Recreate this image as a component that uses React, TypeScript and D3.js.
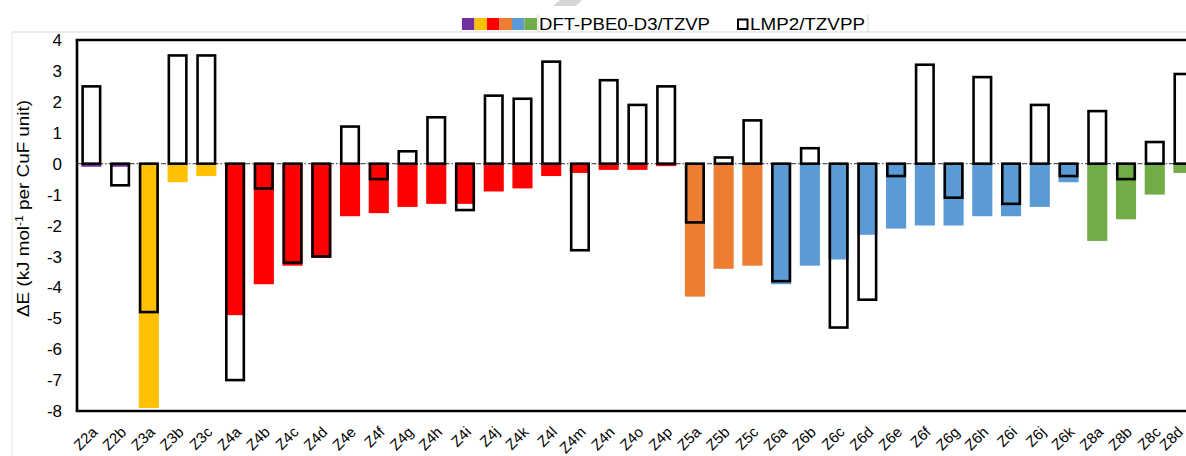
import React from "react";
import * as d3 from "d3";

// Structures along the x axis
const categories = [
  "Z2a", "Z2b", "Z3a", "Z3b", "Z3c",
  "Z4a", "Z4b", "Z4c", "Z4d", "Z4e", "Z4f", "Z4g", "Z4h", "Z4i", "Z4j", "Z4k", "Z4l", "Z4m", "Z4n", "Z4o", "Z4p",
  "Z5a", "Z5b", "Z5c",
  "Z6a", "Z6b", "Z6c", "Z6d", "Z6e", "Z6f", "Z6g", "Z6h", "Z6i", "Z6j", "Z6k",
  "Z8a", "Z8b", "Z8c", "Z8d",
];

// DFT-PBE0-D3/TZVP relative energies (filled bars)
const dftValues = [
  -0.1, -0.1, -7.9, -0.6, -0.4,
  -4.9, -3.9, -3.3, -3.05, -1.7, -1.6, -1.4, -1.3, -1.3, -0.9, -0.8, -0.4, -0.3, -0.2, -0.2, -0.08,
  -4.3, -3.4, -3.3,
  -3.9, -3.3, -3.1, -2.3, -2.1, -2.0, -2.0, -1.7, -1.7, -1.4, -0.6,
  -2.5, -1.8, -1.0, -0.3,
];

// LMP2/TZVPP relative energies (outlined bars)
const lmp2Values = [
  2.5, -0.7, -4.8, 3.5, 3.5,
  -7.0, -0.8, -3.2, -3.0, 1.2, -0.5, 0.4, 1.5, -1.5, 2.2, 2.1, 3.3, -2.8, 2.7, 1.9, 2.5,
  -1.9, 0.2, 1.4,
  -3.8, 0.5, -5.3, -4.4, -0.4, 3.2, -1.1, 2.8, -1.3, 1.9, -0.4,
  1.7, -0.5, 0.7, 2.9,
];

// Family colours (by the Zn prefix)
const familyKeys = ["Z2", "Z3", "Z4", "Z5", "Z6", "Z8"];
const familyColors = ["#7030A0", "#FFC000", "#FF0000", "#ED7D31", "#5B9BD5", "#70AD47"];

const yTicks = [4, 3, 2, 1, 0, -1, -2, -3, -4, -5, -6, -7, -8];

const legendLabels = ["DFT-PBE0-D3/TZVP", "LMP2/TZVPP"];

const W = 1186;
const H = 456;
const FONT = "'Liberation Sans', Arial, sans-serif";

export default function App() {
  const plotLeft = 77;
  const plotTop = 40;
  const plotBottom = 411;
  const step = 28.74;
  const plotRight = plotLeft + step * categories.length;

  const x = d3
    .scaleBand<string>()
    .domain(categories)
    .range([plotLeft, plotRight])
    .paddingInner(0.3)
    .paddingOuter(0.15);

  const y = d3.scaleLinear().domain([-8, 4]).range([plotBottom, plotTop]);

  const color = d3.scaleOrdinal<string, string>().domain(familyKeys).range(familyColors);

  const bw = x.bandwidth();
  const y0 = y(0);
  const sw = 2.6;

  return (
    <svg
      width={W}
      height={H}
      style={{ position: "absolute", left: 0, top: 0, background: "#fff" }}
      fontFamily={FONT}
    >
      <defs>
        <clipPath id="clipPlot">
          <rect x={0} y={0} width={W} height={H} />
        </clipPath>
      </defs>

      {/* faint watermark fragment */}
      <polygon points="560,0 582,0 576,6 553,6" fill="#d6d6d6" />

      {/* chart-area borders */}
      <line x1={12} x2={W} y1={32} y2={32} stroke="#d9d9d9" strokeWidth={1} />
      <line x1={12} x2={12} y1={32} y2={H} stroke="#e3e3e3" strokeWidth={1} />
      <line x1={538} x2={538} y1={14} y2={32} stroke="#d9d9d9" strokeWidth={1} />
      <line x1={868} x2={868} y1={14} y2={32} stroke="#d9d9d9" strokeWidth={1} />

      {/* legend */}
      <g>
        {familyColors.map((c, i) => (
          <rect key={c} x={462 + i * 12.5} y={18} width={12.5} height={12} fill={c} />
        ))}
        <text x={539} y={29.5} fontSize={16.5} fill="#000" textLength={171} lengthAdjust="spacingAndGlyphs">
          {legendLabels[0]}
        </text>
        <rect x={738} y={19.5} width={9.5} height={9.5} fill="#fff" stroke="#000" strokeWidth={2} />
        <text x={750} y={29.5} fontSize={16.5} fill="#000" textLength={115} lengthAdjust="spacingAndGlyphs">
          {legendLabels[1]}
        </text>
      </g>

      {/* zero line */}
      <line
        x1={plotLeft}
        x2={W}
        y1={y0}
        y2={y0}
        stroke="#595959"
        strokeWidth={1.3}
        strokeDasharray="5,2,1.5,2"
      />

      <g clipPath="url(#clipPlot)">
        {/* DFT filled bars */}
        {categories.map((c, i) => {
          const v = dftValues[i];
          const yy = Math.min(y(v), y0);
          const h = Math.abs(y(v) - y0);
          return (
            <rect key={"d" + c} x={x(c)} y={yy} width={bw} height={h} fill={color(c.slice(0, 2))} />
          );
        })}
        {/* LMP2 outlined bars */}
        {categories.map((c, i) => {
          const v = lmp2Values[i];
          const yy = Math.min(y(v), y0);
          const h = Math.abs(y(v) - y0);
          return (
            <rect
              key={"l" + c}
              x={(x(c) as number) + sw / 2}
              y={yy}
              width={bw - sw}
              height={h}
              fill="none"
              stroke="#000"
              strokeWidth={sw}
            />
          );
        })}
      </g>

      {/* plot frame */}
      <line x1={plotLeft - 1.3} x2={W} y1={plotTop} y2={plotTop} stroke="#000" strokeWidth={2.6} />
      <line x1={plotLeft - 1.3} x2={W} y1={plotBottom} y2={plotBottom} stroke="#000" strokeWidth={2.6} />
      <line x1={plotLeft} x2={plotLeft} y1={plotTop} y2={plotBottom} stroke="#000" strokeWidth={2.6} />

      {/* y tick labels */}
      {yTicks.map((t) => (
        <text key={t} x={62} y={y(t)} dy="0.36em" textAnchor="end" fontSize={17} fill="#000">
          {t}
        </text>
      ))}

      {/* y axis title */}
      <text
        transform={`translate(29,${(100 + 317) / 2}) rotate(-90)`}
        textAnchor="middle"
        fontSize={17}
        fill="#000"
        textLength={217}
        lengthAdjust="spacingAndGlyphs"
      >
        ΔE (kJ mol<tspan dy={-6} fontSize={11}>-1</tspan>
        <tspan dy={6}> per CuF unit)</tspan>
      </text>

      {/* x tick labels, rotated; the last one is kept inside the canvas */}
      {categories.map((c) => {
        const cx = (x(c) as number) + bw / 2;
        const ax = Math.min(cx + 7, W - 2);
        return (
          <text
            key={"t" + c}
            transform={`translate(${ax},${433}) rotate(-45)`}
            textAnchor="end"
            fontSize={15}
            fill="#000"
          >
            {c}
          </text>
        );
      })}
    </svg>
  );
}
